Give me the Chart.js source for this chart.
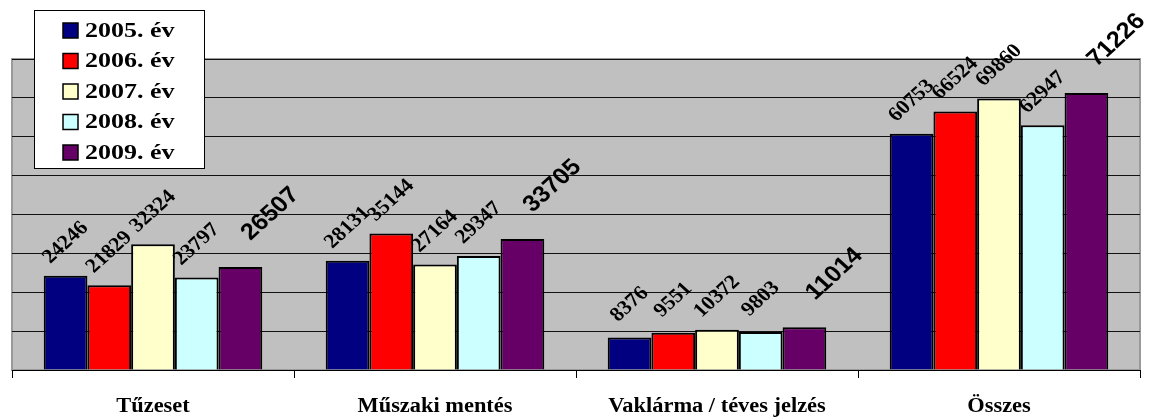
<!DOCTYPE html>
<html>
<head>
<meta charset="utf-8">
<script src="https://cdn.jsdelivr.net/npm/chart.js@4/dist/chart.umd.min.js"></script>
<style>
    body { margin: 0; background: #fff; }
    #wrap { width: 1155px; height: 419px; position: relative; }
</style>
</head>
<body>
<div id="wrap"><canvas id="barCanvas"></canvas></div>
<script>
const categories = ["Tűzeset", "Műszaki mentés", "Vaklárma / téves jelzés", "Összes"];
const years = ["2005. év", "2006. év", "2007. év", "2008. év", "2009. év"];
const values2005 = [24246, 28131, 8376, 60753];
const values2006 = [21829, 35144, 9551, 66524];
const values2007 = [32324, 27164, 10372, 69860];
const values2008 = [23797, 29347, 9803, 62947];
const values2009 = [26507, 33705, 11014, 71226];
const colors = ["#000080", "#FF0000", "#FFFFCC", "#CCFFFF", "#660066"];

document.addEventListener("DOMContentLoaded", function () {
    const barCanvas = document.getElementById("barCanvas");
    const series = [values2005, values2006, values2007, values2008, values2009];

    // the original picture is a bit wider than tall, text looks stretched
    function wideText(ctx, txt, x, y, sx) {
        ctx.save();
        ctx.translate(x, y);
        ctx.scale(sx, 1);
        ctx.fillText(txt, 0, 0);
        ctx.restore();
    }

    // grey plot area like the old excel charts
    const plotBackground = {
        id: "plotBackground",
        beforeDraw(chart) {
            const ctx = chart.ctx;
            const a = chart.chartArea;
            ctx.save();
            ctx.fillStyle = "#C0C0C0";
            ctx.fillRect(a.left, a.top, a.width, a.height);
            ctx.strokeStyle = "#9a9a9a";
            ctx.lineWidth = 2;
            ctx.strokeRect(a.left, a.top, a.width, a.height);
            ctx.restore();
        }
    };

    // category names under the axis
    const categoryNames = {
        id: "categoryNames",
        afterDraw(chart) {
            const ctx = chart.ctx;
            const xs = chart.scales.x;
            ctx.save();
            ctx.font = "bold 20px 'Liberation Serif'";
            ctx.fillStyle = "#000";
            ctx.textAlign = "center";
            ctx.textBaseline = "alphabetic";
            chart.data.labels.forEach(function (lbl, i) {
                wideText(ctx, lbl, xs.getPixelForValue(i), 412, 1.12);
            });
            ctx.restore();
        }
    };

    // rotated value labels above the bars
    const valueLabels = {
        id: "valueLabels",
        afterDatasetsDraw(chart) {
            const ctx = chart.ctx;
            chart.data.datasets.forEach(function (ds, i) {
                const last = i === chart.data.datasets.length - 1;
                chart.getDatasetMeta(i).data.forEach(function (bar, j) {
                    const cx = bar.x + (last ? 30 : 0);
                    const cy = bar.y - (last ? 53 : 33);
                    ctx.save();
                    ctx.translate(cx, cy);
                    ctx.scale(1.1, 1);
                    ctx.rotate(-Math.PI / 4);
                    ctx.font = last ? "bold 23px 'Liberation Sans'" : "bold 20px 'Liberation Serif'";
                    ctx.fillStyle = "#000";
                    ctx.textAlign = "center";
                    ctx.textBaseline = "middle";
                    ctx.fillText(String(ds.data[j]), 0, 0);
                    ctx.restore();
                });
            });
        }
    };

    // legend box sitting over the plot area
    const boxLegend = {
        id: "boxLegend",
        afterDraw(chart) {
            const ctx = chart.ctx;
            ctx.save();
            ctx.fillStyle = "#fff";
            ctx.fillRect(34, 10, 170, 158);
            ctx.strokeStyle = "#000";
            ctx.lineWidth = 1;
            ctx.strokeRect(34.5, 10.5, 170, 158);
            ctx.font = "bold 22px 'Liberation Serif'";
            ctx.textBaseline = "middle";
            chart.data.datasets.forEach(function (ds, i) {
                const y = 30 + i * 30.5;
                ctx.fillStyle = ds.backgroundColor;
                ctx.fillRect(63, y - 7, 15, 15);
                ctx.lineWidth = 1.5;
                ctx.strokeStyle = "#000";
                ctx.strokeRect(63, y - 7, 15, 15);
                ctx.fillStyle = "#000";
                wideText(ctx, ds.label, 85, y + 1, 1.18);
            });
            ctx.restore();
        }
    };

    new Chart(barCanvas, {
        type: "bar",
        data: {
            labels: categories,
            datasets: years.map(function (y, i) {
                return {
                    label: y,
                    data: series[i],
                    backgroundColor: colors[i],
                    borderColor: "#000",
                    borderWidth: 2,
                    categoryPercentage: 0.775,
                    barPercentage: 1
                };
            })
        },
        options: {
            responsive: true,
            maintainAspectRatio: false,
            animation: false,
            layout: { padding: { left: 12, right: 15, top: 59, bottom: 0 } },
            plugins: {
                legend: { display: false },
                tooltip: { enabled: false }
            },
            scales: {
                x: {
                    afterFit(scale) { scale.height = 49; },
                    grid: {
                        offset: true,
                        drawOnChartArea: false,
                        tickLength: 8,
                        color: "#000"
                    },
                    border: { color: "#000", width: 1 },
                    ticks: { display: false }
                },
                y: {
                    min: 0,
                    max: 80000,
                    afterFit(scale) { scale.width = 0; },
                    ticks: { stepSize: 10000, display: false },
                    grid: { color: "#111", drawTicks: false },
                    border: { display: false }
                }
            }
        },
        plugins: [plotBackground, valueLabels, categoryNames, boxLegend]
    });
});
</script>
</body>
</html>
